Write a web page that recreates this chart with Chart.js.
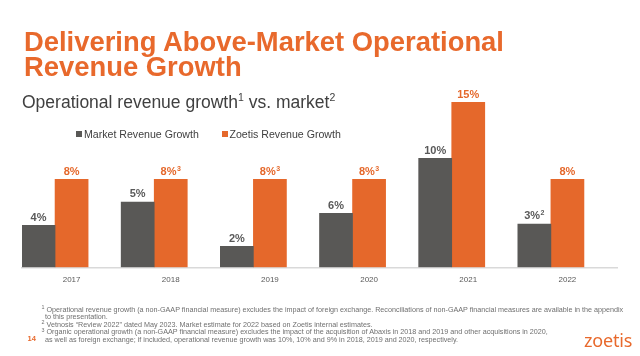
<!DOCTYPE html>
<html>
<head>
<meta charset="utf-8">
<script src="https://cdn.jsdelivr.net/npm/chart.js@4.4.1/dist/chart.umd.min.js"></script>
<style>
  html, body { margin: 0; padding: 0; background: #fff; }
  body { width: 640px; height: 356px; position: relative; overflow: hidden; font-family: "Liberation Sans", Arial, sans-serif; }
  #c { position: absolute; left: 0; top: 0; }
  .t { position: absolute; white-space: nowrap; line-height: 1; }
  #title { left: 24px; top: 28.5px; font-size: 27.4px; line-height: 25px; font-weight: bold; color: #E8692C; }
  #subtitle { left: 22px; top: 93.5px; font-size: 17.5px; color: #404040; }
  sup { font-size: 0.6em; vertical-align: 0; position: relative; top: -0.6em; }
  .leg { top: 128.5px; font-size: 10.6px; color: #404040; }
  .sq { position: absolute; width: 6px; height: 6px; top: 131px; }
  .fn { left: 41.5px; font-size: 7.2px; color: #6f6f6f; }
  .fn sup { font-size: 0.75em; top: -0.45em; }
  #page { left: 27.5px; top: 335px; font-size: 7.5px; font-weight: bold; color: #E8692C; }
  #logo { left: 584px; top: 330.7px; font-size: 18px; color: #E8692C; font-family: "Noto Sans", "Liberation Sans", sans-serif; letter-spacing: -0.2px; }
</style>
</head>
<body>
<canvas id="c" width="640" height="356"></canvas>
<div class="t" id="title">Delivering Above-Market Operational<br>Revenue Growth</div>
<div class="t" id="subtitle">Operational revenue growth<sup>1</sup> vs. market<sup>2</sup></div>
<div class="sq" style="left:76px;background:#595856"></div>
<div class="t leg" style="left:84px">Market Revenue Growth</div>
<div class="sq" style="left:221.5px;background:#E5682B"></div>
<div class="t leg" style="left:229.5px">Zoetis Revenue Growth</div>
<div class="t fn" style="top:305.5px"><sup>1</sup> Operational revenue growth (a non-GAAP financial measure) excludes the impact of foreign exchange. Reconciliations of non-GAAP financial measures are available in the appendix</div>
<div class="t fn" style="top:313px;left:45px">to this presentation.</div>
<div class="t fn" style="top:320.5px"><sup>2</sup> Vetnosis “Review 2022” dated May 2023. Market estimate for 2022 based on Zoetis internal estimates.</div>
<div class="t fn" style="top:328px"><sup>3</sup> Organic operational growth (a non-GAAP financial measure) excludes the impact of the acquisition of Abaxis in 2018 and 2019 and other acquisitions in 2020,</div>
<div class="t fn" style="top:335.5px;left:45px">as well as foreign exchange; if included, operational revenue growth was 10%, 10% and 9% in 2018, 2019 and 2020, respectively.</div>
<div class="t" id="page">14</div>
<div class="t" id="logo">zoetis</div>
<script>
// ---- data ----
const years = ['2017', '2018', '2019', '2020', '2021', '2022'];
const marketValues = [3.82, 5.94, 1.91, 4.91, 9.9, 3.94];
const zoetisValues = [8, 8, 8, 8, 15, 8];
const marketLabels = ['4%', '5%', '2%', '6%', '10%', '3%'];
const marketSups = ['', '', '', '', '', '2'];
const zoetisLabels = ['8%', '8%', '8%', '8%', '15%', '8%'];
const zoetisSups = ['', '3', '3', '3', '', ''];
const spacerValues = [null, null, null, null, null, null];

const FONT = '"Liberation Sans", Arial, sans-serif';
const GREY = '#595856';
const ORANGE = '#E5682B';

const labelPlugin = {
  id: 'barLabels',
  afterDatasetsDraw(chart) {
    const ctx = chart.ctx;
    const sets = [
      { i: 0, labels: marketLabels, sups: marketSups, color: '#595959' },
      { i: 1, labels: zoetisLabels, sups: zoetisSups, color: ORANGE }
    ];
    ctx.save();
    ctx.textBaseline = 'alphabetic';
    sets.forEach(s => {
      const meta = chart.getDatasetMeta(s.i);
      meta.data.forEach((bar, j) => {
        const main = s.labels[j];
        const sup = s.sups[j];
        ctx.font = 'bold 11px ' + FONT;
        const w1 = ctx.measureText(main).width;
        ctx.font = 'bold 7px ' + FONT;
        const w2 = sup ? ctx.measureText(sup).width + 0.5 : 0;
        const x0 = bar.x - (w1 + w2) / 2;
        const y = bar.y - 4.5;
        ctx.fillStyle = s.color;
        ctx.textAlign = 'left';
        ctx.font = 'bold 11px ' + FONT;
        ctx.fillText(main, x0, y);
        if (sup) {
          ctx.font = 'bold 7px ' + FONT;
          ctx.fillText(sup, x0 + w1 + 0.5, y - 4);
        }
      });
    });
    ctx.restore();
  }
};

new Chart(document.getElementById('c'), {
  type: 'bar',
  data: {
    labels: years,
    datasets: [
      { label: 'Market Revenue Growth', data: marketValues, backgroundColor: GREY },
      { label: 'Zoetis Revenue Growth', data: zoetisValues, backgroundColor: ORANGE },
      { label: '', data: spacerValues, backgroundColor: 'rgba(0,0,0,0)' }
    ]
  },
  options: {
    responsive: false,
    animation: false,
    events: [],
    datasets: { bar: { categoryPercentage: 1, barPercentage: 1, borderWidth: 0 } },
    layout: { padding: { left: 22, right: 23, top: 91.3, bottom: 73.7 } },
    plugins: { legend: { display: false }, tooltip: { enabled: false }, title: { display: false } },
    scales: {
      x: {
        grid: { display: false, drawTicks: false },
        border: { display: true, color: '#d9d9d9', width: 1.5 },
        ticks: { font: { size: 8, family: FONT }, color: '#595959', padding: 7.5 },
        afterFit(axis) { axis.height = 15; }
      },
      y: { display: false, min: 0, max: 16 }
    }
  },
  plugins: [labelPlugin]
});
</script>
</body>
</html>
